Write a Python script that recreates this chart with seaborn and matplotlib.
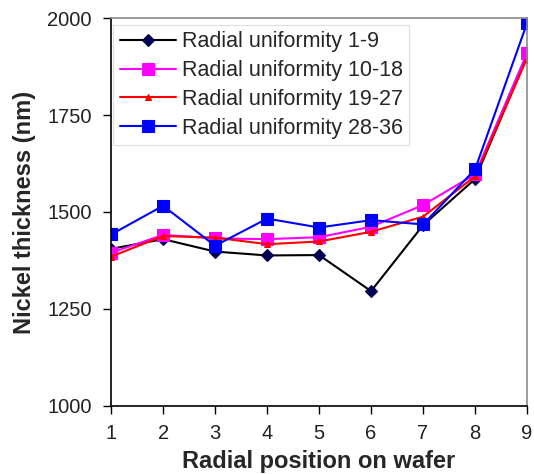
import matplotlib
matplotlib.use("Agg")
import matplotlib.pyplot as plt
import seaborn as sns
import pandas as pd

positions = [1, 2, 3, 4, 5, 6, 7, 8, 9]
series_names = ["Radial uniformity 1-9", "Radial uniformity 10-18",
                "Radial uniformity 19-27", "Radial uniformity 28-36"]
ru_1_9 = [1405, 1430, 1398, 1388, 1389, 1296, 1466, 1585, 1900]
ru_10_18 = [1395, 1441, 1432, 1430, 1435, 1462, 1518, 1597, 1910]
ru_19_27 = [1385, 1438, 1434, 1417, 1424, 1449, 1488, 1592, 1897]
ru_28_36 = [1442, 1516, 1413, 1483, 1460, 1479, 1468, 1610, 1987]
y_ticks = [1000, 1250, 1500, 1750, 2000]

sns.set_theme(style="white")
plt.rcParams['font.family'] = ['Liberation Sans', 'DejaVu Sans']

fig = plt.figure(figsize=(5.34, 4.74), dpi=100)
ax = fig.add_axes([0.208, 0.1435, 0.779, 0.8185])

styles = [
    dict(color="black", marker="D", markersize=6, mfc="#000050", mec="#000050", lw=1.5),
    dict(color="#FF00FF", marker="s", markersize=8, mfc="#FF00FF", mec="#FF00FF", lw=1.5),
    dict(color="#FF0000", marker="^", markersize=4, mfc="#FF0000", mec="#FF0000", lw=1.5),
    dict(color="#0000FF", marker="s", markersize=8.5, mfc="#0000FF", mec="#0000FF", lw=1.5),
]
for name, vals, st in zip(series_names, [ru_1_9, ru_10_18, ru_19_27, ru_28_36], styles):
    df = pd.DataFrame({"pos": positions, "val": vals})
    sns.lineplot(data=df, x="pos", y="val", ax=ax, label=name,
                 color=st["color"], marker=st["marker"], markersize=st["markersize"],
                 markerfacecolor=st["mfc"], markeredgecolor=st["mec"],
                 linewidth=st["lw"], markeredgewidth=0.8)

ax.set_xlim(1, 9)
ax.set_ylim(1000, 2000)
ax.set_xticks(positions)
ax.set_yticks(y_ticks)
ax.tick_params(axis="both", direction="out", length=6, width=1, colors="black",
               labelsize=14.5, bottom=True, left=True)
ax.tick_params(axis="y", pad=8)
ax.tick_params(axis="x", pad=7)
for lbl in ax.get_xticklabels() + ax.get_yticklabels():
    lbl.set_color("#222222")
ax.spines["left"].set_color("black")
ax.spines["bottom"].set_color("black")
ax.spines["top"].set_color("#8c8c8c")
ax.spines["right"].set_color("#8c8c8c")
for s in ax.spines.values():
    s.set_linewidth(1.2)

ax.set_xlabel("Radial position on wafer", fontsize=17, fontweight="bold", labelpad=5)
ax.set_ylabel("Nickel thickness (nm)", fontsize=17, fontweight="bold", labelpad=8)

leg = ax.legend(loc="upper left", bbox_to_anchor=(0.005, 0.982), fontsize=15.5,
                frameon=True, fancybox=False, edgecolor="#d8d8d8", borderaxespad=0,
                handlelength=2.6, handletextpad=0.3, labelspacing=0.36, borderpad=0.3)
leg.get_frame().set_linewidth(0.8)

fig.savefig("out.png", dpi=100)
